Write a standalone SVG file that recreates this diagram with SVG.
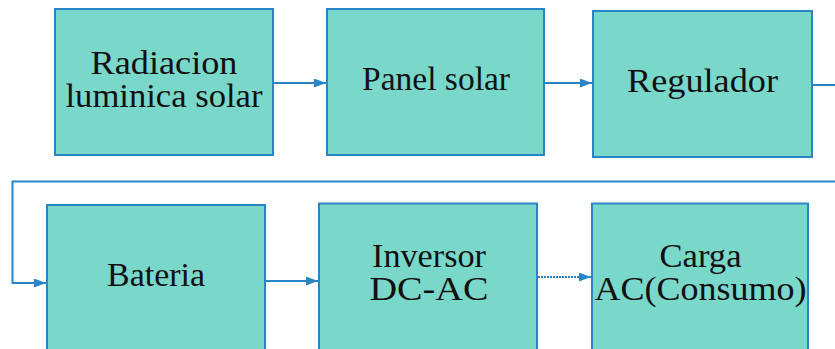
<svg xmlns="http://www.w3.org/2000/svg" width="835" height="349" viewBox="0 0 835 349">
<style>
.box{fill:#7ad8cb;stroke:#2a85c6;stroke-width:2}
.lbl{font-family:'Liberation Serif','Times New Roman',serif;font-size:33px;fill:#111;text-anchor:middle}
.con{fill:none;stroke:#2a85c6;stroke-width:2}
</style>
<defs>
<marker id="ah" viewBox="0 0 12 9" refX="12" refY="4.5" markerWidth="12" markerHeight="9" markerUnits="userSpaceOnUse" orient="auto">
<path d="M0,0 L12,4.5 L0,9 Z" fill="#2a85c6"/>
</marker>
</defs>
<rect width="835" height="349" fill="#fff"/>
<g id="connectors">
<path class="con" d="M274,83 H326" marker-end="url(#ah)"/>
<path class="con" d="M545,83 H592" marker-end="url(#ah)"/>
<path class="con" d="M813,85 H836"/>
<path class="con" d="M836,181.5 H12.5 V283 H46" marker-end="url(#ah)"/>
<path class="con" d="M266,281 H318" marker-end="url(#ah)"/>
<path class="con" d="M538,277 H591" stroke-dasharray="2 1" marker-end="url(#ah)"/>
</g>
<g id="n1">
<rect class="box" x="55" y="9" width="218" height="146"/>
<text class="lbl" x="164" y="74" textLength="147" lengthAdjust="spacingAndGlyphs">Radiacion</text>
<text class="lbl" x="164" y="107" textLength="197" lengthAdjust="spacingAndGlyphs">luminica solar</text>
</g>
<g id="n2">
<rect class="box" x="327" y="9" width="217" height="146"/>
<text class="lbl" x="436" y="90" textLength="148" lengthAdjust="spacingAndGlyphs">Panel solar</text>
</g>
<g id="n3">
<rect class="box" x="593" y="11" width="219" height="146"/>
<text class="lbl" x="702.5" y="92" textLength="151" lengthAdjust="spacingAndGlyphs">Regulador</text>
</g>
<g id="n4">
<rect class="box" x="47" y="205" width="218" height="160"/>
<text class="lbl" x="156" y="286" textLength="98" lengthAdjust="spacingAndGlyphs">Bateria</text>
</g>
<g id="n5">
<rect class="box" x="319" y="203.5" width="218" height="160"/>
<text class="lbl" x="429" y="267" textLength="114" lengthAdjust="spacingAndGlyphs">Inversor</text>
<text class="lbl" x="429" y="300" textLength="119" lengthAdjust="spacingAndGlyphs">DC-AC</text>
</g>
<g id="n6">
<rect class="box" x="592" y="203.5" width="216" height="160"/>
<text class="lbl" x="700.5" y="267" textLength="82" lengthAdjust="spacingAndGlyphs">Carga</text>
<text class="lbl" x="700.5" y="300" textLength="212" lengthAdjust="spacingAndGlyphs">AC(Consumo)</text>
</g>
</svg>
